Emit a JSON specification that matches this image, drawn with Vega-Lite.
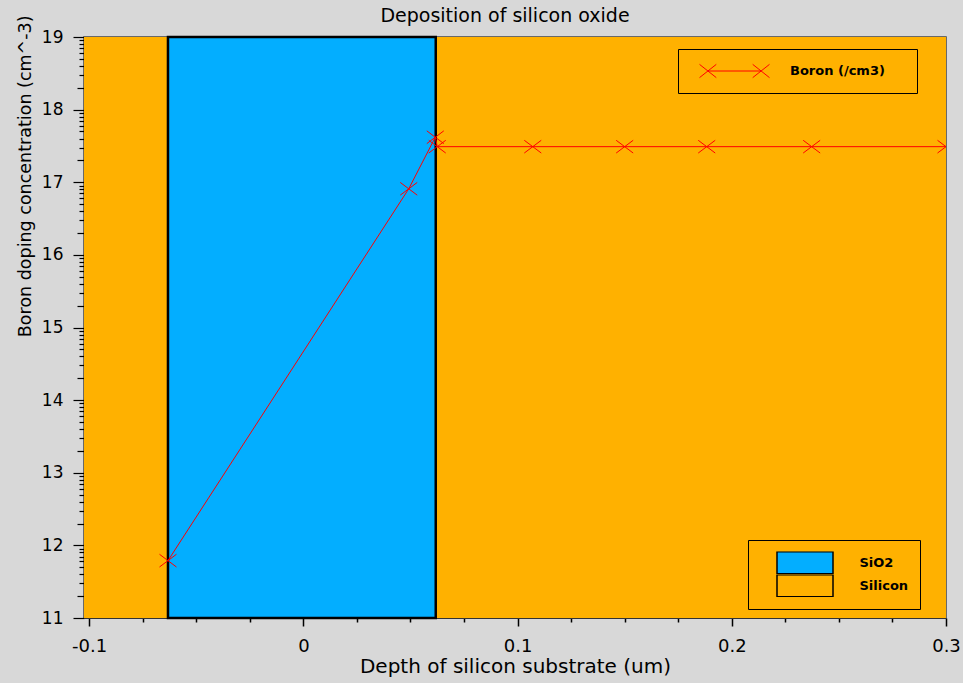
{
  "$schema": "https://vega.github.io/schema/vega-lite/v6.json",
  "width": 862,
  "height": 581,
  "autosize": {"type": "none"},
  "padding": {"left": 84, "top": 37, "right": 17, "bottom": 65},
  "background": "#d8d8d8",
  "config": {
    "view": {"stroke": "#444444", "strokeWidth": 1.5},
    "font": "DejaVu Sans",
    "axis": {"labelColor": "black", "titleColor": "black", "tickColor": "black", "domainColor": "#333333", "grid": false, "titleFontWeight": "normal", "labelFont": "DejaVu Sans", "titleFont": "DejaVu Sans", "labelOverlap": false, "labelBound": false, "labelFlush": false}
  },
  "title": {"text": "Deposition of silicon oxide", "fontSize": 19, "fontWeight": "normal", "font": "DejaVu Sans", "color": "black", "offset": -11, "dx": -10},
  "datasets": {
    "regions": [
      {"material": "Silicon", "start": -0.1024, "end": -0.0632},
      {"material": "Silicon", "start": 0.0618, "end": 0.3},
      {"material": "SiO2", "start": -0.0632, "end": 0.0618}
    ],
    "boron": [
      {"species": "Boron (/cm3)", "depth": -0.0632, "conc": 11.79},
      {"species": "Boron (/cm3)", "depth": 0.0492, "conc": 16.91},
      {"species": "Boron (/cm3)", "depth": 0.0616, "conc": 17.62},
      {"species": "Boron (/cm3)", "depth": 0.0625, "conc": 17.49},
      {"species": "Boron (/cm3)", "depth": 0.1071, "conc": 17.49},
      {"species": "Boron (/cm3)", "depth": 0.15, "conc": 17.49},
      {"species": "Boron (/cm3)", "depth": 0.1883, "conc": 17.49},
      {"species": "Boron (/cm3)", "depth": 0.2373, "conc": 17.49},
      {"species": "Boron (/cm3)", "depth": 0.3, "conc": 17.49}
    ]
  },
  "resolve": {"axis": {"y": "independent"}},
  "layer": [
    {
      "data": {"name": "regions"},
      "mark": {"type": "rect", "stroke": "black"},
      "encoding": {
        "x": {
          "field": "start", "type": "quantitative",
          "scale": {"domain": [-0.1024, 0.3], "nice": false, "zero": false},
          "axis": {
            "title": "Depth of silicon substrate (um)",
            "titleFontSize": 20,
            "titlePadding": 1,
            "values": [-0.1, -0.075, -0.05, -0.025, 0, 0.025, 0.05, 0.075, 0.1, 0.125, 0.15, 0.175, 0.2, 0.225, 0.25, 0.275, 0.3],
            "labelExpr": "abs(datum.value*10-round(datum.value*10))<1e-9 ? ''+datum.value : ''",
            "tickSize": {"condition": {"test": "abs(datum.value*10-round(datum.value*10))<1e-9", "value": 8}, "value": 4},
            "tickWidth": 1.5,
            "labelFontSize": 18,
            "labelPadding": 11
          }
        },
        "x2": {"field": "end"},
        "y": {
          "datum": 11, "type": "quantitative",
          "scale": {"domain": [11, 19], "nice": false, "zero": false},
          "axis": {
            "orient": "left",
            "title": "Boron doping concentration (cm^-3)",
            "titleFontSize": 17.5,
            "titleAngle": -90,
            "titleAlign": "right",
            "titleBaseline": "alphabetic",
            "titleX": -54,
            "titleY": -22,
            "values": [11, 12, 13, 14, 15, 16, 17, 18, 19],
            "tickSize": 11,
            "tickWidth": 1.2,
            "labelFontSize": 17,
            "labelPadding": 10
          }
        },
        "y2": {"datum": 19},
        "fill": {
          "field": "material", "type": "nominal",
          "scale": {"domain": ["SiO2", "Silicon"], "range": ["#03AEFF", "#FFB100"]},
          "legend": {
            "orient": "none", "legendX": 664, "legendY": 503,
            "title": null,
            "fillColor": "#FFB100", "strokeColor": "black",
            "padding": 11.5,
            "symbolType": "M-1,-0.393L1,-0.393L1,0.393L-1,0.393Z",
            "symbolSize": 3136,
            "symbolStrokeColor": "black",
            "symbolStrokeWidth": 1.5,
            "symbolOpacity": 1,
            "symbolOffset": 16.5,
            "clipHeight": 22.5,
            "rowPadding": 0,
            "labelOffset": 25.5,
            "labelFontSize": 13,
            "labelFontWeight": "bold",
            "labelColor": "black",
            "labelFont": "DejaVu Sans"
          }
        },
        "strokeWidth": {"condition": {"test": "datum.material==='SiO2'", "value": 2.5}, "value": 0}
      }
    },
    {
      "data": {"name": "boron"},
      "mark": {"type": "line", "strokeWidth": 1, "clip": true},
      "encoding": {
        "x": {"field": "depth", "type": "quantitative"},
        "y": {
          "field": "conc", "type": "quantitative",
          "axis": {
            "orient": "left", "title": null, "labels": false, "domain": false,
            "values": [11.47712, 11.60206, 11.69897, 11.77815, 11.8451, 11.90309, 11.95424,
                       12.47712, 12.60206, 12.69897, 12.77815, 12.8451, 12.90309, 12.95424,
                       13.47712, 13.60206, 13.69897, 13.77815, 13.8451, 13.90309, 13.95424,
                       14.47712, 14.60206, 14.69897, 14.77815, 14.8451, 14.90309, 14.95424,
                       15.47712, 15.60206, 15.69897, 15.77815, 15.8451, 15.90309, 15.95424,
                       16.47712, 16.60206, 16.69897, 16.77815, 16.8451, 16.90309, 16.95424,
                       17.47712, 17.60206, 17.69897, 17.77815, 17.8451, 17.90309, 17.95424,
                       18.47712, 18.60206, 18.69897, 18.77815, 18.8451, 18.90309, 18.95424],
            "tickSize": 5, "tickWidth": 1.2
          }
        },
        "stroke": {
          "field": "species", "type": "nominal",
          "scale": {"domain": ["Boron (/cm3)"], "range": ["#ff0000"]},
          "legend": {
            "orient": "none", "legendX": 594, "legendY": 12,
            "title": null,
            "fillColor": "#FFB100", "strokeColor": "black",
            "padding": 14,
            "symbolType": "M-0.757,0L0.757,0M-1,-0.19L-0.52,0.19M-1,0.19L-0.52,-0.19M0.52,-0.19L1,0.19M0.52,0.19L1,-0.19",
            "symbolSize": 4900,
            "symbolStrokeWidth": 1,
            "symbolFillColor": "transparent",
            "symbolOffset": 7,
            "clipHeight": 16,
            "labelOffset": 20,
            "labelFontSize": 13,
            "labelFontWeight": "bold",
            "labelColor": "black",
            "labelFont": "DejaVu Sans",
            "labelExpr": "datum.label + '\u00a0\u00a0\u00a0\u00a0\u200b'"
          }
        }
      }
    },
    {
      "data": {"name": "boron"},
      "mark": {"type": "point", "shape": "M-1,-0.75L1,0.75M-1,0.75L1,-0.75", "size": 289, "color": "#ff0000", "filled": false, "strokeWidth": 1, "opacity": 1, "clip": true},
      "encoding": {
        "x": {"field": "depth", "type": "quantitative"},
        "y": {
          "field": "conc", "type": "quantitative",
          "axis": {
            "orient": "left", "title": null, "labels": false, "domain": false,
            "values": [11.30103, 12.30103, 13.30103, 14.30103, 15.30103, 16.30103, 17.30103, 18.30103],
            "tickSize": 7, "tickWidth": 1.2
          }
        }
      }
    }
  ]
}
